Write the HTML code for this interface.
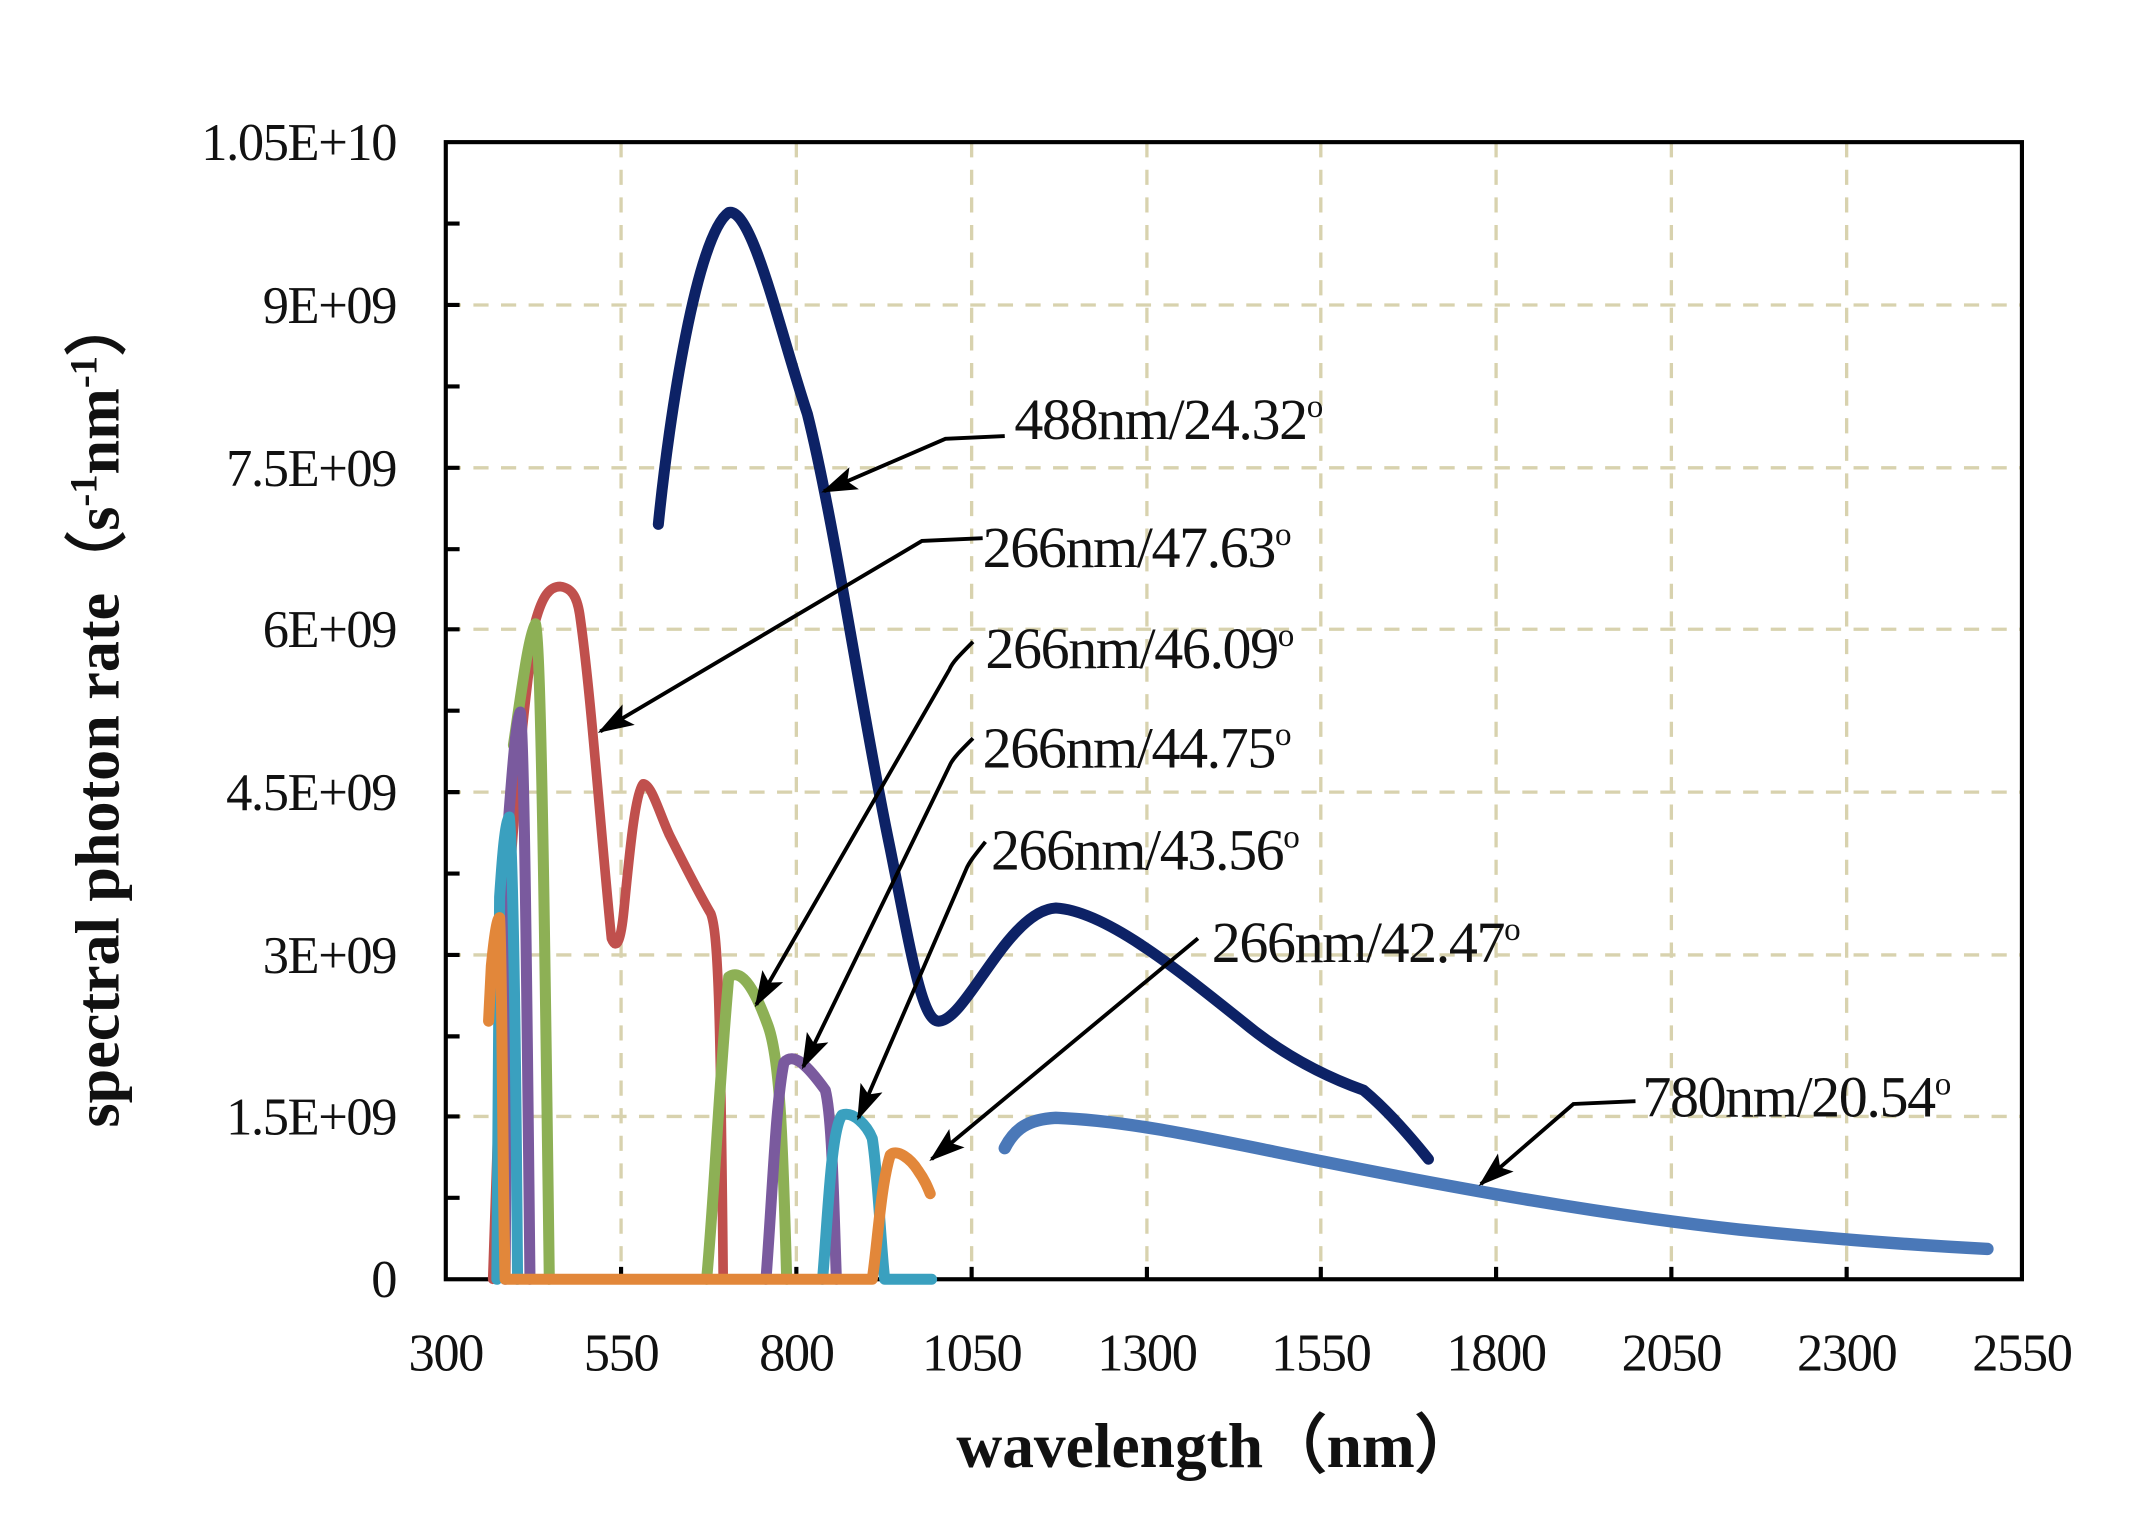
<!DOCTYPE html>
<html><head><meta charset="utf-8"><style>
html,body{margin:0;padding:0;background:#fff;}
svg{display:block;}
text{font-family:"Liberation Serif",serif;fill:#111;}
</style></head><body>
<svg width="2142" height="1518" viewBox="0 0 1552 1100" preserveAspectRatio="none" xmlns="http://www.w3.org/2000/svg">
<defs>
<marker id="ah2" viewBox="0 0 24 16" refX="22" refY="8" markerWidth="26" markerHeight="18" orient="auto" markerUnits="userSpaceOnUse">
<path d="M0,0 L24,8 L0,16 L5,8 z" fill="#000"/>
</marker>
</defs>
<rect width="1552" height="1100" fill="#fff"/>
<g stroke="#d8d2ae" stroke-width="2.4" stroke-dasharray="11,9" fill="none">
<line x1="450" y1="103" x2="450" y2="927"/><line x1="577" y1="103" x2="577" y2="927"/>
<line x1="704" y1="103" x2="704" y2="927"/><line x1="831" y1="103" x2="831" y2="927"/>
<line x1="957" y1="103" x2="957" y2="927"/><line x1="1084" y1="103" x2="1084" y2="927"/>
<line x1="1211" y1="103" x2="1211" y2="927"/><line x1="1338" y1="103" x2="1338" y2="927"/>
<line x1="323" y1="221" x2="1465" y2="221"/><line x1="323" y1="339" x2="1465" y2="339"/>
<line x1="323" y1="456" x2="1465" y2="456"/><line x1="323" y1="574" x2="1465" y2="574"/>
<line x1="323" y1="692" x2="1465" y2="692"/><line x1="323" y1="809" x2="1465" y2="809"/>
</g>
<g stroke="#000" stroke-width="3" fill="none">
<rect x="323" y="103" width="1142" height="824"/>
<path d="M323,868h10M323,809h10M323,751h10M323,692h10M323,633h10M323,574h10M323,515h10M323,456h10M323,398h10M323,339h10M323,280h10M323,221h10M323,162h10"/>
<path d="M450,927v-9M577,927v-9M704,927v-9M831,927v-9M957,927v-9M1084,927v-9M1211,927v-9M1338,927v-9"/>
</g>
<g stroke-width="8" fill="none" stroke-linecap="round" stroke-linejoin="round">
<path stroke="#c0504d" stroke-width="7" d="M357,927 L362,780 C368,620 378,520 388,450 C393,432 398,425 406,425 C414,426 418,432 420,445 C428,500 435,600 443,680 C447,690 450,680 452,660 C456,620 460,575 466,568 C472,568 478,590 485,605 C495,625 505,645 515,662 C520,675 522,720 524,927"/>
<path stroke="#4a78b8" stroke-width="9" d="M728,832 C735,818 745,811 765,810 C820,812 880,826 960,842 C1060,862 1160,880 1260,891 C1340,899 1400,903 1440,905"/>
<path stroke="#0d2266" stroke-width="8" d="M477,380 C485,300 505,170 528,154 C545,150 565,240 585,300 C605,380 625,520 645,615 C660,690 668,740 680,740 C700,740 730,660 765,658 C800,660 850,700 900,740 C930,765 960,780 988,790 C1000,800 1015,815 1035,840"/>
<path stroke="#8db055" d="M372,540 C378,500 383,460 388,452 C392,460 395,700 398,927 M512,927 C518,860 520,800 528,708 C536,702 545,712 556,742 C565,765 567,820 570,927"/>
<path stroke="#7a5a9e" d="M366,927 L368,600 C371,560 374,520 377,516 C380,530 382,750 384,927 M555,927 C560,860 562,800 568,770 C575,762 585,772 598,790 C603,810 604,870 606,927"/>
<path stroke="#3aa0bf" d="M360,927 L362,650 C364,620 366,595 369,592 C372,620 374,800 375,927 M596,927 C600,880 602,820 610,808 C618,805 628,815 632,825 C636,850 638,900 641,927 L675,927"/>
<path stroke="#e2873a" d="M354,740 L356,700 C358,680 360,665 362,665 C364,700 364,850 366,927 L632,927 C636,900 638,860 645,837 C650,832 660,840 665,848 C670,855 672,860 674,865"/>
</g>
<g stroke="#000" stroke-width="2.8" fill="none">
<path d="M728,316 L685,318 L597,356" marker-end="url(#ah2)"/>
<path d="M712,390 L668,392 L435,530" marker-end="url(#ah2)"/>
<path d="M705,465 C695,475 690,480 688,485 L548,728" marker-end="url(#ah2)"/>
<path d="M705,535 C695,545 690,550 688,555 L582,773" marker-end="url(#ah2)"/>
<path d="M714,610 C706,620 702,625 700,630 L622,810" marker-end="url(#ah2)"/>
<path d="M868,680 L675,840" marker-end="url(#ah2)"/>
<path d="M1185,798 L1140,800 L1073,858" marker-end="url(#ah2)"/>
</g>
<g font-size="42" letter-spacing="-1">
<text x="735" y="318">488nm/24.32<tspan font-size="24" dy="-16">o</tspan></text>
<text x="712" y="411">266nm/47.63<tspan font-size="24" dy="-16">o</tspan></text>
<text x="714" y="484">266nm/46.09<tspan font-size="24" dy="-16">o</tspan></text>
<text x="712" y="556">266nm/44.75<tspan font-size="24" dy="-16">o</tspan></text>
<text x="718" y="630">266nm/43.56<tspan font-size="24" dy="-16">o</tspan></text>
<text x="878" y="697">266nm/42.47<tspan font-size="24" dy="-16">o</tspan></text>
<text x="1190" y="809">780nm/20.54<tspan font-size="24" dy="-16">o</tspan></text>
</g>
<g font-size="38" text-anchor="end" letter-spacing="-1">
<text x="287" y="116">1.05E+10</text><text x="287" y="234">9E+09</text>
<text x="287" y="352">7.5E+09</text><text x="287" y="469">6E+09</text>
<text x="287" y="587">4.5E+09</text><text x="287" y="705">3E+09</text>
<text x="287" y="822">1.5E+09</text><text x="287" y="940">0</text>
</g>
<g font-size="38" text-anchor="middle" letter-spacing="-1">
<text x="323" y="993">300</text><text x="450" y="993">550</text><text x="577" y="993">800</text>
<text x="704" y="993">1050</text><text x="831" y="993">1300</text><text x="957" y="993">1550</text>
<text x="1084" y="993">1800</text><text x="1211" y="993">2050</text><text x="1338" y="993">2300</text>
<text x="1465" y="993">2550</text>
</g>
<text x="882" y="1063" font-size="46" font-weight="bold" text-anchor="middle" font-family="'Liberation Serif','Noto Serif CJK SC',serif">wavelength（nm）</text>
<text transform="translate(86,515) rotate(-90)" font-size="45" font-weight="bold" text-anchor="middle" font-family="'Liberation Serif','Noto Serif CJK SC',serif">spectral photon rate（s<tspan font-size="28" dy="-16">-1</tspan><tspan dy="16">nm</tspan><tspan font-size="28" dy="-16">-1</tspan><tspan dy="16">）</tspan></text>
</svg>
</body></html>
